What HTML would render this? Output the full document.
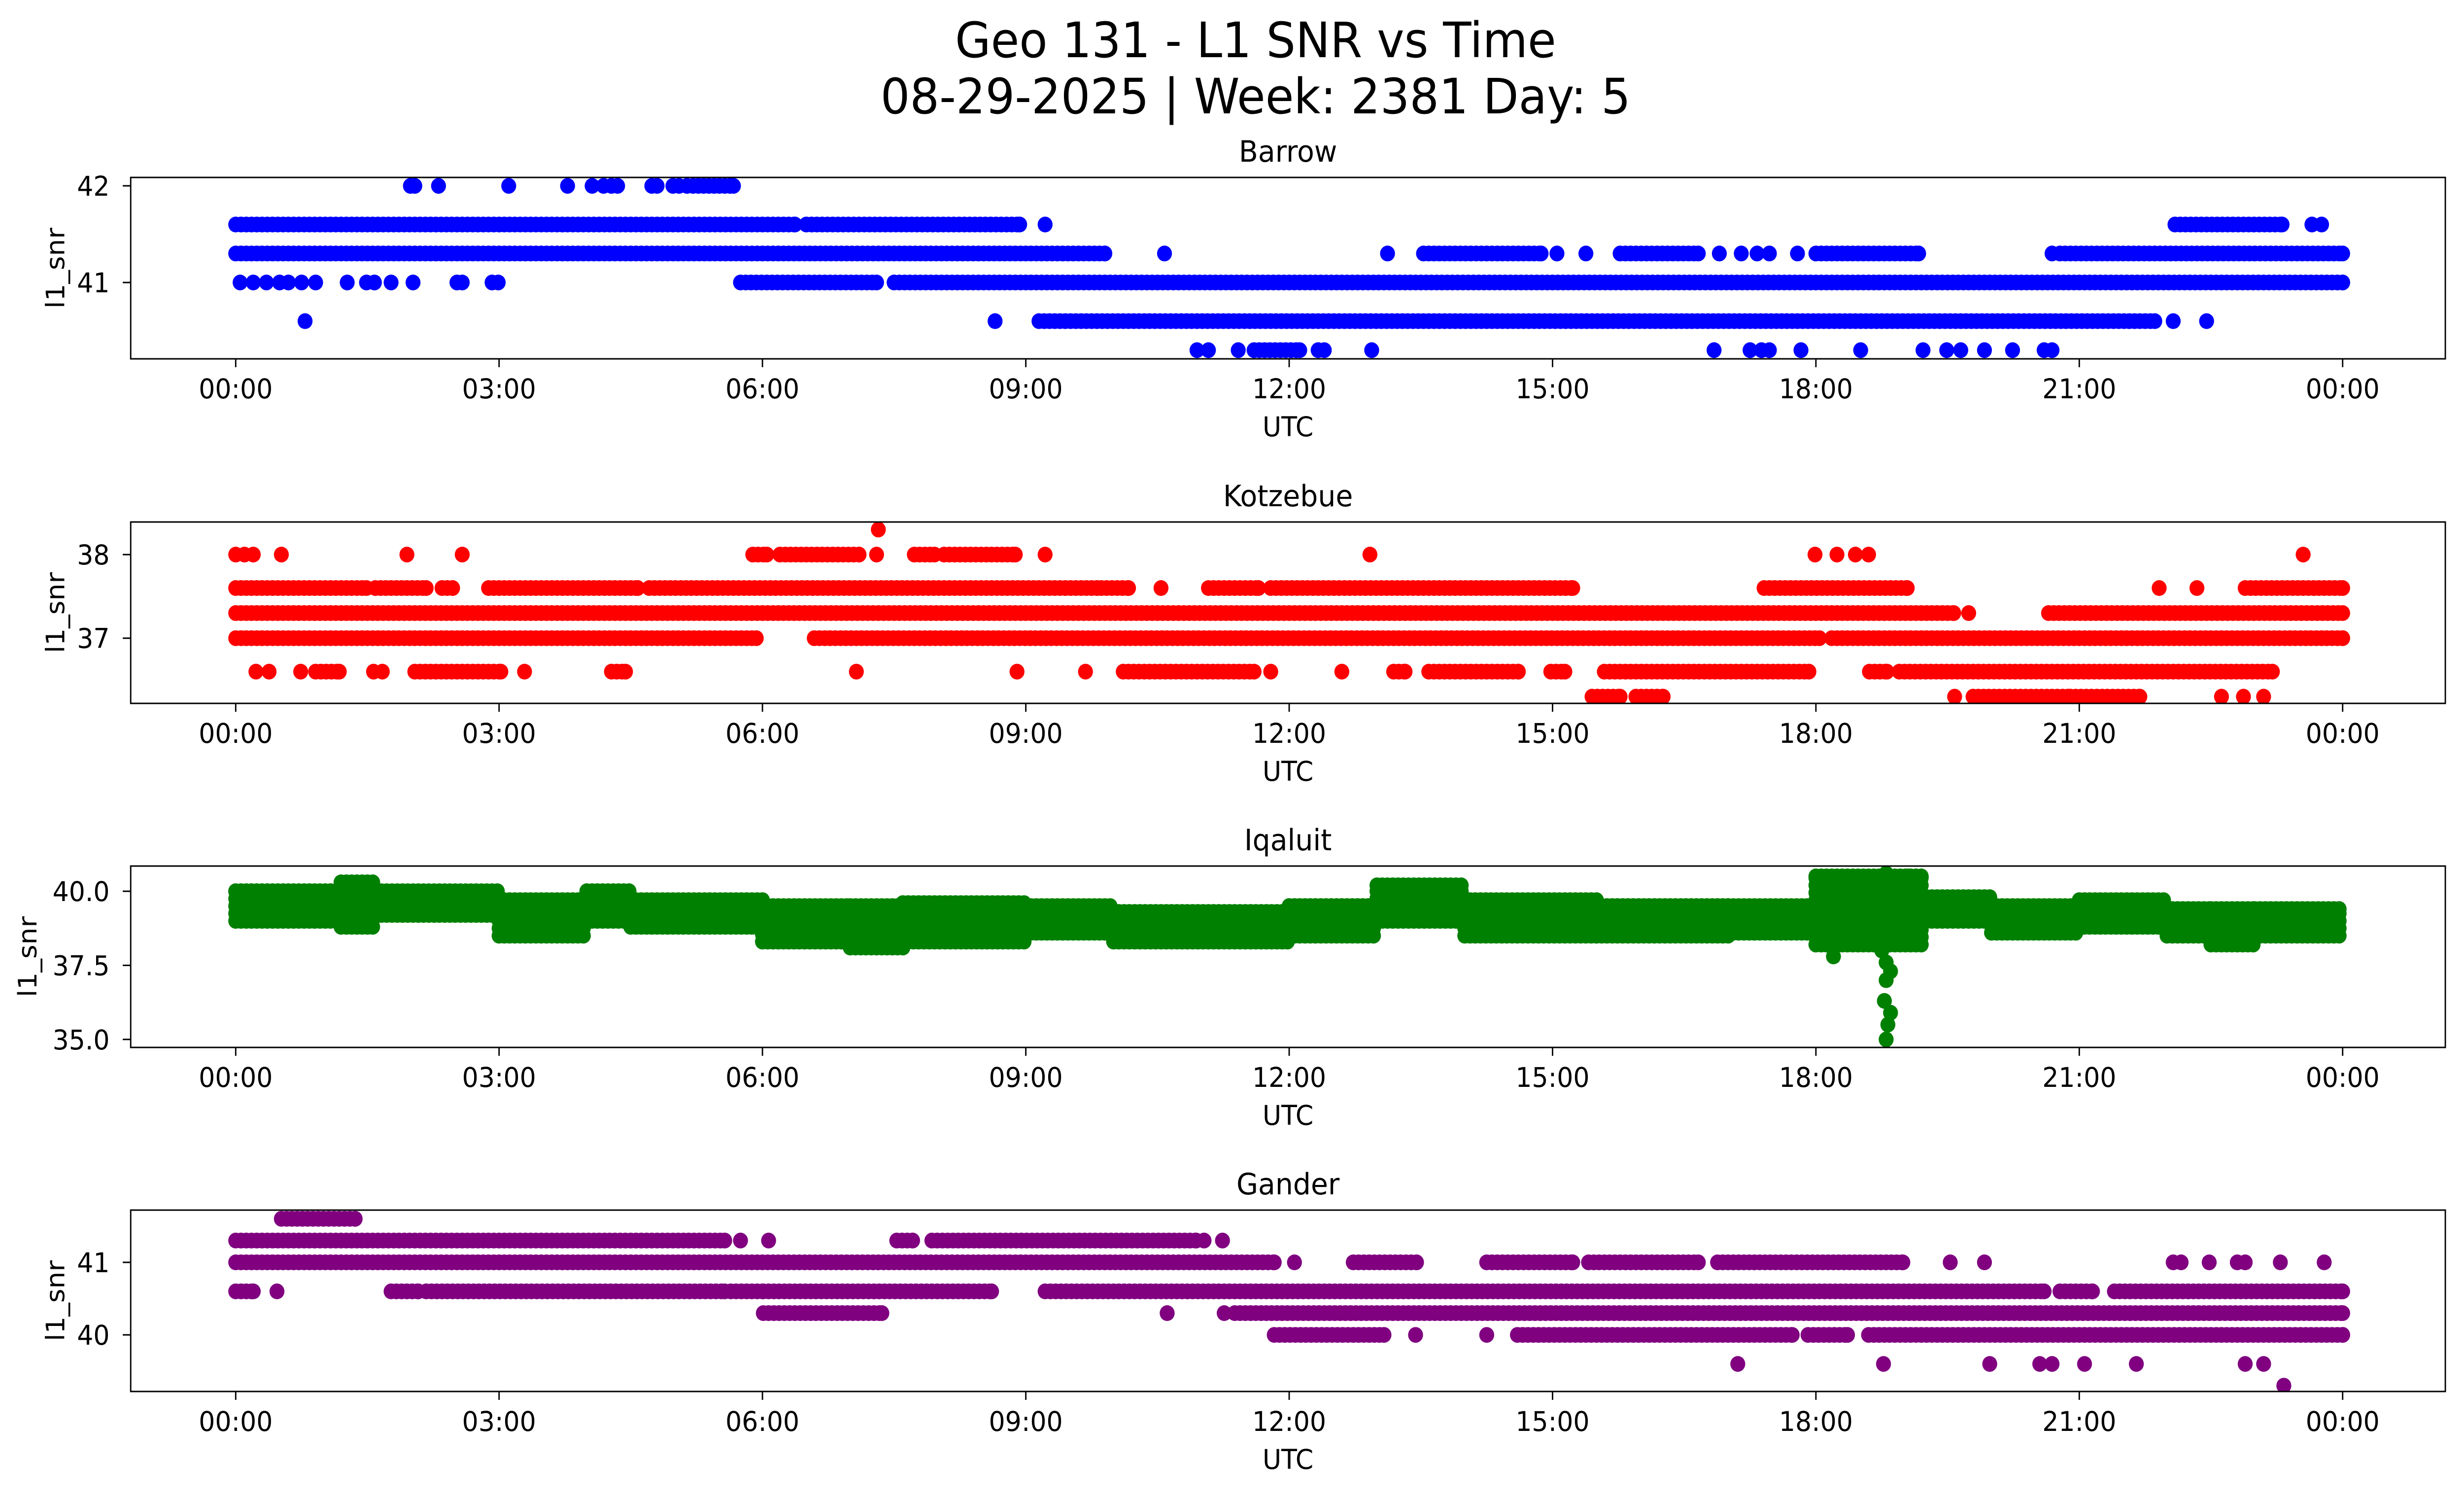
<!DOCTYPE html>
<html><head><meta charset="utf-8"><style>
html,body{margin:0;padding:0;background:#fff;width:100%;height:100%;overflow:hidden;}
svg{display:block;width:100vw;height:100vh;font-family:"DejaVu Sans","Liberation Sans",sans-serif;}
</style></head><body>
<svg id="fig" viewBox="0 0 5279 3033" preserveAspectRatio="none" xmlns="http://www.w3.org/2000/svg">
<rect width="5279" height="3033" fill="#fff"/>
<text x="2690" y="116" font-size="99" text-anchor="middle">Geo 131 - L1 SNR vs Time</text>
<text x="2690" y="230" font-size="99" text-anchor="middle">08-29-2025 | Week: 2381 Day: 5</text>
</svg>
<script>
const xTickLabels = ["00:00","03:00","06:00","09:00","12:00","15:00","18:00","21:00","00:00"];
const xTickHours = [0,3,6,9,12,15,18,21,24];

// Barrow
const barrowLevels = [42, 41.6, 41.3, 41.0, 40.6, 40.3];
const barrowRuns = [
  [[5.21,5.67]],
  [[0,6.37],[6.50,8.93],[22.09,23.31]],
  [[0,9.90],[13.53,14.87],[15.77,16.66],[18.0,19.17],[20.78,24]],
  [[5.75,7.30],[7.50,24]],
  [[9.15,21.86]],
  [[11.6,12.12]]
];
const barrowPoints = [
  [1.99,2.04,2.31,3.11,3.78,4.06,4.19,4.28,4.35,4.74,4.80,4.98,5.05,5.14],
  [9.22,23.65,23.76],
  [10.58,13.12,15.05,15.38,16.9,17.15,17.33,17.47,17.79,20.69],
  [0.05,0.2,0.35,0.5,0.6,0.75,0.91,1.27,1.49,1.58,1.77,2.02,2.52,2.58,2.92,2.99],
  [0.79,8.65,22.07,22.45],
  [10.95,11.08,11.42,12.33,12.40,12.94,16.84,17.25,17.38,17.47,17.83,18.51,19.22,19.49,19.65,19.92,20.24,20.6,20.69]
];
// Kotzebue
const kotzLevels = [38.3, 38.0, 37.6, 37.3, 37.0, 36.6, 36.3];
const kotzRuns = [
  [],
  [[5.89,6.05],[6.20,7.10],[7.73,7.96],[8.07,8.88]],
  [[0,1.49],[1.59,2.17],[2.35,2.47],[2.88,4.58],[4.71,9.81],[9.86,10.17],[11.08,11.65],[11.79,15.23],[17.41,19.04],[22.89,24]],
  [[0,19.57],[20.65,24]],
  [[0,5.93],[6.59,18.04],[18.18,24]],
  [[0.91,1.18],[2.04,3.02],[4.28,4.44],[10.11,11.60],[13.19,13.32],[13.59,14.61],[14.98,15.14],[15.59,17.92],[18.61,18.81],[18.95,23.2]],
  [[15.45,15.77],[15.95,16.26],[19.79,20.87],[20.9,21.69]]
];
const kotzPoints = [
  [7.32],
  [0,0.1,0.2,0.52,1.95,2.58,7.30,9.22,12.92,17.99,18.24,18.45,18.6,23.55],
  [10.54,21.91,22.34],
  [19.74],
  [],
  [0.23,0.38,0.74,1.57,1.67,3.29,7.07,8.9,9.68,11.79,12.6],
  [19.58,22.62,22.87,23.1]
];
// Iqaluit
const iqBandStart = [0,1.2,1.6,3,4,4.5,6,7,7.6,9,10,12,13,14,15.5,17,18,19.2,20,21,22,22.5,23];
const iqBandEnd   = [1.2,1.6,3,4,4.5,6,7,7.6,9,10,12,13,14,15.5,17,18,19.2,20,21,22,22.5,23,24];
const iqBandLo    = [39.0,38.8,39.2,38.5,39.0,38.8,38.3,38.1,38.3,38.6,38.3,38.5,39.0,38.5,38.5,38.6,38.2,39.0,38.6,38.8,38.5,38.2,38.5];
const iqBandHi    = [40.0,40.3,40.0,39.7,40.0,39.7,39.5,39.5,39.6,39.5,39.3,39.5,40.2,39.7,39.5,39.5,40.5,39.8,39.5,39.7,39.4,39.4,39.4];
const iqSpikeT = [18.75,18.8,18.85,18.8,18.78,18.85,18.82,18.8,18.8,19.05,18.2];
const iqSpikeV = [38.0,37.6,37.3,37.0,36.3,35.9,35.5,35.0,40.6,40.5,37.8];
// Gander
const ganderLevels = [41.6, 41.3, 41.0, 40.6, 40.3, 40.0, 39.6, 39.3];
const ganderRuns = [
  [[0.52,1.36]],
  [[0,5.57],[7.53,7.71],[7.93,10.94]],
  [[0,11.83],[12.73,13.45],[14.25,15.23],[15.41,16.66],[16.88,18.99]],
  [[0,0.2],[1.77,2.08],[2.17,5.57],[5.64,6.01],[6.07,8.61],[9.22,20.6],[20.78,21.15],[21.4,24]],
  [[6.01,7.36],[11.38,24]],
  [[11.83,13.08],[14.6,17.73],[17.91,18.36],[18.6,24]],
  [],
  []
];
const ganderPoints = [
  [],
  [5.75,6.07,11.03,11.24],
  [12.06,19.53,19.92,22.07,22.16,22.48,22.8,22.89,23.29,23.79],
  [0.47],
  [10.61,11.26],
  [13.44,14.25],
  [17.11,18.77,19.98,20.55,20.69,21.06,21.65,22.89,23.1],
  [23.33]
];

const NS = "http://www.w3.org/2000/svg";
const svg = document.getElementById('fig');
const AX_L = 280, AX_R = 5239, X0 = 505, DAYW = 4514, R = 16;
function xs(h){ return X0 + h/24*DAYW; }
function mk(tag, attrs, parent){ const e=document.createElementNS(NS,tag); for(const k in attrs) e.setAttribute(k,attrs[k]); (parent||svg).appendChild(e); return e; }

const panels = [
  {title:"Barrow", top:360, vTop:42.087, vBot:40.21, color:"#0000ff", yticks:[42,41], ylab:["42","41"]},
  {title:"Kotzebue", top:1059, vTop:38.39, vBot:36.22, color:"#ff0000", yticks:[38,37], ylab:["38","37"]},
  {title:"Iqaluit", top:1757, vTop:40.85, vBot:34.73, color:"#008000", yticks:[40,37.5,35], ylab:["40.0","37.5","35.0"]},
  {title:"Gander", top:2455, vTop:41.72, vBot:39.22, color:"#800080", yticks:[41,40], ylab:["41","40"]}
];
const H = 368;

panels.forEach((p,i)=>{
  const g = mk('g',{});
  
  
  const ys = v => p.top + (p.vTop - v)/(p.vTop - p.vBot)*H;
  p.ys = ys; p.g = g;
  const clip = mk('clipPath',{id:'c'+i}, g);
  mk('rect',{x:AX_L,y:p.top,width:AX_R-AX_L,height:H}, clip);
  const dots = mk('g',{fill:p.color,'clip-path':'url(#c'+i+')'}, g);
  
  
  p.dots = dots;
  const fr = mk('rect',{x:AX_L,y:p.top,width:AX_R-AX_L,height:H,fill:'none',stroke:'#000','stroke-width':3}, g);
  
  
  const t = mk('text',{x:(AX_L+AX_R)/2,y:p.top-32,'font-size':60,'text-anchor':'middle'}, g);
  t.textContent = p.title;
  
  
  xTickHours.forEach((h,j)=>{
    mk('line',{x1:xs(h),x2:xs(h),y1:p.top+H,y2:p.top+H+17,stroke:'#000','stroke-width':3}, g);
    const tl = mk('text',{x:xs(h),y:p.top+H+80,'font-size':55,'text-anchor':'middle'}, g);
    tl.textContent = xTickLabels[j];
    
    
  });
  const xl = mk('text',{x:(AX_L+AX_R)/2,y:p.top+H+157,'font-size':55,'text-anchor':'middle'}, g);
  xl.textContent = "UTC";
  
  
  p.yticks.forEach((v,j)=>{
    mk('line',{x1:AX_L-17,x2:AX_L,y1:ys(v),y2:ys(v),stroke:'#000','stroke-width':3}, g);
    const yl = mk('text',{x:235,y:ys(v)+20,'font-size':55,'text-anchor':'end'}, g);
    yl.textContent = p.ylab[j];
    
    
  });
  const yt = mk('text',{x:0,y:0,'font-size':55,'text-anchor':'middle',transform:`translate(${i==2?78:138},${p.top+H/2}) rotate(-90)`}, g);
  yt.textContent = "l1_snr";
  
  
});

function dot(p, h, v){
  mk('circle',{cx:xs(h).toFixed(1),cy:p.ys(v).toFixed(1),r:R}, p.dots);
}
function drawLevels(p, levels, runs, points){
  levels.forEach((lv,k)=>{
    runs[k].forEach(([a,b])=>{ for(let h=a; h<=b+1e-9; h+=0.06) dot(p,h,lv); dot(p,b,lv); });
    points[k].forEach(h=>dot(p,h,lv));
  });
}
drawLevels(panels[0], barrowLevels, barrowRuns, barrowPoints);
drawLevels(panels[1], kotzLevels, kotzRuns, kotzPoints);
drawLevels(panels[3], ganderLevels, ganderRuns, ganderPoints);
const pq = panels[2];
iqBandStart.forEach((s,k)=>{
  const e = iqBandEnd[k], lo = iqBandLo[k], hi = iqBandHi[k];
  for(let h=s; h<=e+1e-9; h+=0.06){
    for(let v=lo; v<=hi+1e-9; v+=0.25) dot(pq,h,v);
    dot(pq,h,hi);
  }
});
iqSpikeT.forEach((h,k)=>dot(pq,h,iqSpikeV[k]));
</script>
</body></html>
